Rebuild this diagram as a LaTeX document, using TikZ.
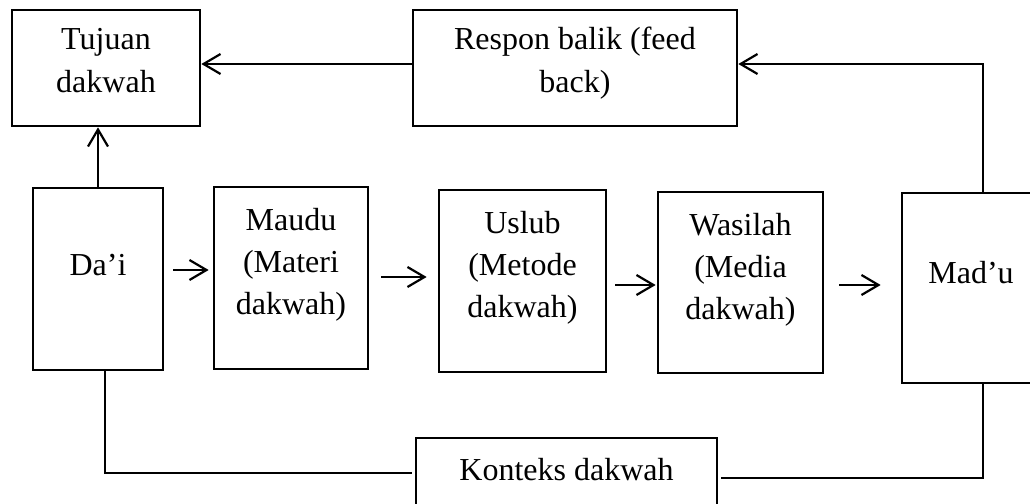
\documentclass[tikz,border=0pt]{standalone}
\usepackage{fontspec}
\setmainfont{Liberation Serif}
\usetikzlibrary{arrows.meta}
\newcommand{\boxtext}[4]{\parbox[c][#2][t]{#1}{\centering\rule{0pt}{#3}#4}}
\begin{document}
\begin{tikzpicture}[x=1pt,y=-1pt,
  box/.style={draw, line width=2.7pt, inner sep=0pt, font=\fontsize{32}{42}\selectfont},
  conn/.style={line width=2.2pt},
  arr/.style={conn, -{Straight Barb[length=17pt,width=20pt]}}]
\useasboundingbox (0,0) rectangle (1030,503);
\clip (0,0) rectangle (1030,503);
\fill[white] (0,0) rectangle (1030,503);

\node[box] (tujuan) at (106,68) {\boxtext{188pt}{116pt}{40pt}{Tujuan\\dakwah}};
\node[box] (respon) at (575,68) {\boxtext{324pt}{116pt}{40pt}{Respon balik (feed\\back)}};
\node[box] (dai) at (98,279) {\boxtext{130pt}{182pt}{87pt}{Da’i}};
\node[box] (maudu) at (291,278) {\boxtext{154pt}{182pt}{43pt}{Maudu\\(Materi\\dakwah)}};
\node[box] (uslub) at (522.5,281) {\boxtext{167pt}{182pt}{43pt}{Uslub\\(Metode\\dakwah)}};
\node[box] (wasilah) at (740.5,282.5) {\boxtext{165pt}{181pt}{43pt}{Wasilah\\(Media\\dakwah)}};
\node[box] (madu) at (971,288) {\boxtext{138pt}{190pt}{90pt}{Mad’u}};
\node[box] (konteks) at (566.5,478) {\boxtext{301pt}{80pt}{42pt}{Konteks dakwah}};

\draw[arr] (dai.north) -- (tujuan.south -| dai.north);
\draw[arr] (respon.west |- 0,64) -- (tujuan.east |- 0,64);
\draw[arr] (madu.north -| 983,0) |- (respon.east |- 0,64);
\draw[arr, shorten <=9pt, shorten >=4pt] (dai.east |- 0,270) -- (maudu.west |- 0,270);
\draw[arr, shorten <=12pt, shorten >=11pt] (maudu.east |- 0,277) -- (uslub.west |- 0,277);
\draw[arr, shorten <=8pt, shorten >=1pt] (uslub.east |- 0,285) -- (wasilah.west |- 0,285);
\draw[arr, shorten <=15pt, shorten >=20pt] (wasilah.east |- 0,285) -- (madu.west |- 0,285);
\draw[conn, shorten >=3pt] (dai.south -| 105,0) |- (konteks.west |- 0,473);
\draw[conn, shorten <=3pt] (konteks.east |- 0,478) -| (madu.south -| 983,0);
\end{tikzpicture}
\end{document}
